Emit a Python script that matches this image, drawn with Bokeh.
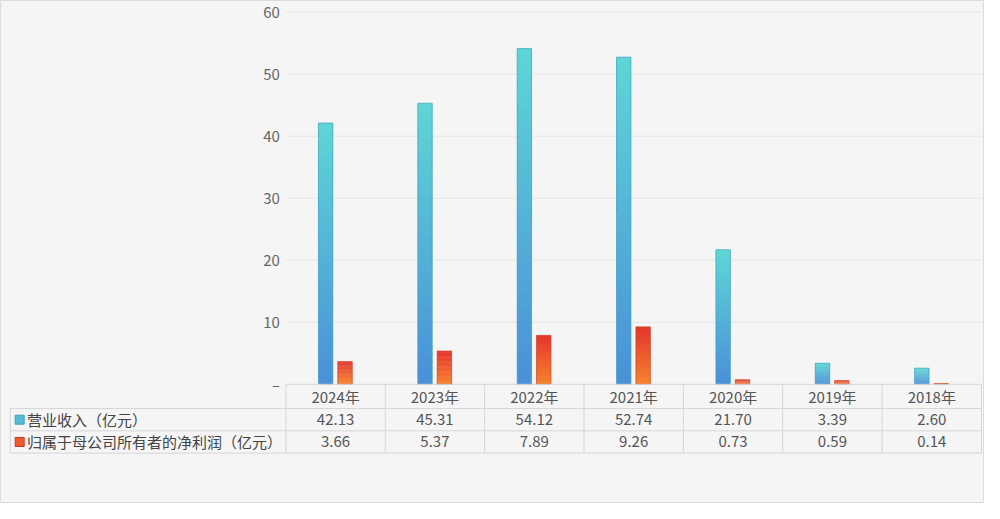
from bokeh.plotting import figure
from bokeh.models import Range1d, ColumnDataSource
from bokeh.core.properties import value
from bokeh.embed import file_html
from bokeh.resources import INLINE

# ---------------- data ----------------
years = ["2024年", "2023年", "2022年", "2021年", "2020年", "2019年", "2018年"]
revenue = [42.13, 45.31, 54.12, 52.74, 21.70, 3.39, 2.60]
profit = [3.66, 5.37, 7.89, 9.26, 0.73, 0.59, 0.14]
series_names = ["营业收入（亿元）", "归属于母公司所有者的净利润（亿元）"]
y_ticks = [0, 10, 20, 30, 40, 50, 60]
y_tick_labels = ["–", "10", "20", "30", "40", "50", "60"]

# ---------------- layout constants ----------------
W, H = 984, 503
PX_X = 99.37          # px per category column
PX_Y = 6.203          # px per value unit
X0 = -2.872
X1 = X0 + W / PX_X
Y_TOP = 61.875
Y_BOT = Y_TOP - H / PX_Y

ROW_B = [0.0, -3.906, -7.5, -11.09]   # table row boundaries (value units)
ROW_C = [(ROW_B[i] + ROW_B[i + 1]) / 2 for i in range(3)]
LEFT_EDGE = -2.773
LEG_SQ_X = -2.679
LEG_TXT_X = -2.605
YLAB_X = -0.06

FONT = "Noto Sans CJK SC"
BG = "#f5f5f5"
LINE = "#d6d6d6"
GRID = "#e6e6e6"

C_TOP, C_BOT = (94, 214, 214), (74, 144, 216)
R_TOP, R_BOT = (229, 52, 46), (246, 132, 44)

p = figure(width=W, height=H, output_backend="svg", toolbar_location=None,
           x_range=Range1d(X0, X1), y_range=Range1d(Y_BOT, Y_TOP),
           min_border=0, min_border_left=0, min_border_right=0,
           min_border_top=0, min_border_bottom=0,
           background_fill_color=BG, border_fill_color=BG)
p.axis.visible = False
p.grid.visible = False
p.outline_line_color = "#dcdcdc"
p.outline_line_width = 1

n = len(years)
centers = [i + 0.5 for i in range(n)]

# grid lines
gy = y_ticks[1:]
p.segment(x0=[0] * len(gy), x1=[n] * len(gy), y0=gy, y1=gy, line_color=GRID, line_width=1)

# y tick labels
p.text(x=[YLAB_X] * len(y_ticks), y=y_ticks, text=y_tick_labels,
       text_align="right", text_baseline="middle", text_color="#666666",
       text_font=value(FONT), text_font_size="15px")


def lerp(a, b, t):
    return "#%02x%02x%02x" % tuple(int(round(a[k] + (b[k] - a[k]) * t)) for k in range(3))


def gradient_bars(vals, offset, width, c_bot, c_top, outline):
    N = 40
    xs, bots, tops, cols = [], [], [], []
    for i, v in enumerate(vals):
        for k in range(N):
            xs.append(centers[i] + offset)
            bots.append(v * k / N)
            tops.append(min(v, v * (k + 1.6) / N))
            cols.append(lerp(c_bot, c_top, (k + 0.5) / N))
    src = ColumnDataSource(dict(x=xs, bottom=bots, top=tops, color=cols))
    p.vbar(x="x", bottom="bottom", top="top", width=width, source=src,
           fill_color="color", line_color=None)
    p.vbar(x=[c + offset for c in centers], bottom=0, top=vals, width=width,
           fill_alpha=0, line_color=outline, line_width=1, line_alpha=0.7)


gradient_bars(revenue, -0.10, 0.145, C_BOT, C_TOP, "#3f9fc0")
gradient_bars(profit, 0.095, 0.145, R_BOT, R_TOP, "#d0452a")

# table lines
p.segment(x0=[0], x1=[n], y0=[ROW_B[0]], y1=[ROW_B[0]], line_color=LINE, line_width=1)
p.segment(x0=[LEFT_EDGE] * 3, x1=[n] * 3, y0=ROW_B[1:], y1=ROW_B[1:], line_color=LINE, line_width=1)
p.segment(x0=list(range(n + 1)), x1=list(range(n + 1)), y0=[ROW_B[0]] * (n + 1),
          y1=[ROW_B[3]] * (n + 1), line_color=LINE, line_width=1)
p.segment(x0=[LEFT_EDGE], x1=[LEFT_EDGE], y0=[ROW_B[1]], y1=[ROW_B[3]], line_color=LINE, line_width=1)

# table text
txt = dict(text_align="center", text_baseline="middle", text_color="#555555",
           text_font=value(FONT), text_font_size="15px")
p.text(x=centers, y=[ROW_C[0]] * n, text=years, **txt)
p.text(x=centers, y=[ROW_C[1]] * n, text=["%.2f" % v for v in revenue], **txt)
p.text(x=centers, y=[ROW_C[2]] * n, text=["%.2f" % v for v in profit], **txt)

# legend markers & labels
p.scatter(x=[LEG_SQ_X], y=[ROW_C[1]], marker="square", size=9,
          fill_color=lerp(C_BOT, C_TOP, 0.6), line_color="#3f9fc0", line_width=1)
p.scatter(x=[LEG_SQ_X], y=[ROW_C[2]], marker="square", size=9,
          fill_color=lerp(R_BOT, R_TOP, 0.5), line_color="#c0392b", line_width=1)
p.text(x=[LEG_TXT_X] * 2, y=ROW_C[1:], text=series_names,
       text_align="left", text_baseline="middle", text_color="#444444",
       text_font=value(FONT), text_font_size="15px")

open("out.html", "w").write(file_html(p, INLINE))
